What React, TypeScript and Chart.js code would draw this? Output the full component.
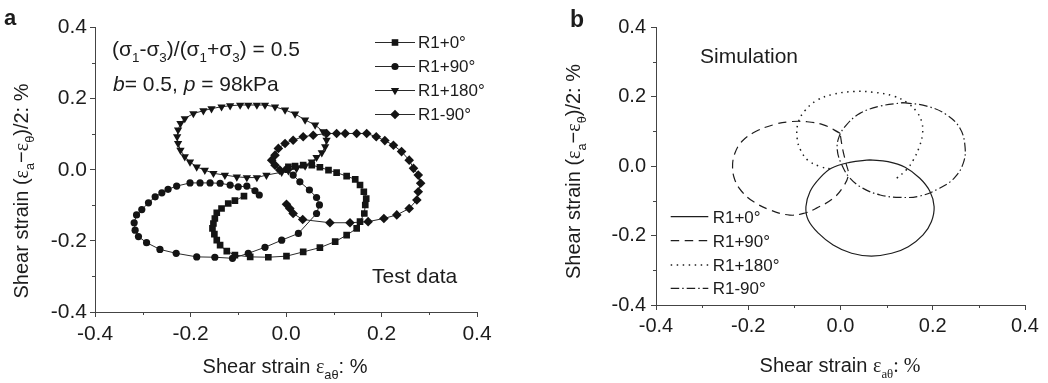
import React, { useEffect, useRef } from 'react';
import { Chart, registerables } from 'chart.js';

Chart.register(...registerables);

const SANS = '"Liberation Sans", Arial, Helvetica, sans-serif';
const SERIF = '"Liberation Serif", "Times New Roman", serif';
const INK = '#1c1c1c';
const AXIS = '#444444';

// ---------- shared axis data ----------
const TICK_VALUES = [-0.4, -0.2, 0.0, 0.2, 0.4];
const TICK_LABELS = ['-0.4', '-0.2', '0.0', '0.2', '0.4'];
const MINOR_TICKS = [-0.3, -0.1, 0.1, 0.3];
const SERIES_NAMES = ['R1+0°', 'R1+90°', 'R1+180°', 'R1-90°'];

// ---------- panel a : test data ----------
const testR1p0X = [-0.088, -0.107, -0.121, -0.135, -0.145, -0.149, -0.152, -0.154, -0.150, -0.145, -0.138, -0.124, -0.107, -0.075, -0.037, 0.001, 0.036, 0.071, 0.103, 0.127, 0.148, 0.155, 0.164, 0.166, 0.168, 0.163, 0.155, 0.145, 0.127, 0.106, 0.089, 0.071, 0.054, 0.036, 0.019, 0.005];
const testR1p0Y = [-0.074, -0.087, -0.095, -0.109, -0.121, -0.137, -0.151, -0.165, -0.181, -0.198, -0.212, -0.229, -0.240, -0.245, -0.246, -0.243, -0.231, -0.219, -0.202, -0.184, -0.165, -0.146, -0.123, -0.099, -0.081, -0.062, -0.043, -0.027, -0.018, -0.008, -0.001, 0.007, 0.013, 0.013, 0.010, 0.008];

const testR1p90X = [0.001, 0.015, 0.029, 0.049, 0.064, 0.070, 0.064, 0.026, -0.009, -0.044, -0.079, -0.112, -0.149, -0.187, -0.230, -0.264, -0.292, -0.309, -0.316, -0.318, -0.313, -0.302, -0.288, -0.274, -0.260, -0.247, -0.229, -0.201, -0.180, -0.159, -0.138, -0.117, -0.100, -0.082, -0.065, -0.056];
const testR1p90Y = [0.001, -0.015, -0.034, -0.057, -0.078, -0.099, -0.123, -0.179, -0.198, -0.218, -0.235, -0.249, -0.246, -0.245, -0.235, -0.224, -0.205, -0.188, -0.170, -0.149, -0.127, -0.112, -0.093, -0.076, -0.065, -0.055, -0.046, -0.037, -0.037, -0.037, -0.038, -0.043, -0.048, -0.046, -0.059, -0.071];

const testR1p180X = [-0.009, -0.041, -0.061, -0.082, -0.103, -0.128, -0.152, -0.170, -0.187, -0.201, -0.212, -0.221, -0.226, -0.228, -0.226, -0.221, -0.212, -0.194, -0.173, -0.156, -0.135, -0.117, -0.096, -0.079, -0.061, -0.044, -0.023, -0.002, 0.019, 0.040, 0.061, 0.078, 0.085, 0.082, 0.075, 0.064, 0.054, 0.040, 0.022, 0.005];
const testR1p180Y = [-0.007, -0.015, -0.022, -0.022, -0.020, -0.015, -0.010, -0.001, 0.008, 0.022, 0.037, 0.055, 0.074, 0.093, 0.112, 0.130, 0.144, 0.158, 0.166, 0.172, 0.177, 0.180, 0.182, 0.182, 0.182, 0.182, 0.177, 0.168, 0.157, 0.140, 0.126, 0.107, 0.083, 0.065, 0.048, 0.035, 0.022, 0.011, 0.004, -0.003];

const testR1m90X = [0.001, 0.008, 0.015, 0.035, 0.092, 0.134, 0.172, 0.205, 0.232, 0.258, 0.274, 0.277, 0.282, 0.277, 0.267, 0.258, 0.242, 0.225, 0.207, 0.189, 0.169, 0.148, 0.124, 0.106, 0.085, 0.057, 0.036, 0.015, -0.002, -0.016, -0.023, -0.030, -0.023, -0.013];
const testR1m90Y = [-0.097, -0.109, -0.123, -0.140, -0.149, -0.149, -0.146, -0.137, -0.127, -0.109, -0.085, -0.062, -0.038, -0.015, 0.004, 0.027, 0.051, 0.069, 0.082, 0.093, 0.102, 0.102, 0.102, 0.102, 0.102, 0.097, 0.093, 0.083, 0.074, 0.060, 0.041, 0.027, 0.013, -0.001];

// ---------- panel b : simulation ----------
const simR1p0X = [0.064, 0.103, 0.140, 0.172, 0.194, 0.203, 0.197, 0.179, 0.147, 0.111, 0.067, 0.024, -0.016, -0.048, -0.070, -0.075, -0.066, -0.046, -0.020, 0.020, 0.064];
const simR1p0Y = [0.018, 0.013, -0.003, -0.035, -0.073, -0.117, -0.160, -0.198, -0.232, -0.251, -0.259, -0.251, -0.227, -0.193, -0.155, -0.117, -0.073, -0.036, -0.006, 0.011, 0.018];

const simR1p90X = [-0.001, -0.037, -0.073, -0.110, -0.146, -0.185, -0.214, -0.229, -0.234, -0.229, -0.214, -0.189, -0.153, -0.110, -0.077, -0.052, -0.016, 0.006, 0.017, 0.012, 0.005, -0.001];
const simR1p90Y = [0.095, 0.119, 0.128, 0.128, 0.119, 0.099, 0.071, 0.037, -0.001, -0.040, -0.073, -0.102, -0.126, -0.141, -0.135, -0.121, -0.093, -0.059, -0.025, 0.008, 0.047, 0.095];

const simR1p180X = [0.122, 0.144, 0.158, 0.171, 0.178, 0.176, 0.165, 0.144, 0.115, 0.071, 0.028, -0.016, -0.052, -0.077, -0.092, -0.094, -0.086, -0.070, -0.044, -0.019];
const simR1p180Y = [-0.035, -0.009, 0.018, 0.056, 0.095, 0.128, 0.157, 0.183, 0.202, 0.213, 0.215, 0.207, 0.189, 0.160, 0.124, 0.080, 0.045, 0.016, -0.001, -0.009];

const simR1m90X = [0.136, 0.187, 0.230, 0.259, 0.270, 0.266, 0.246, 0.214, 0.172, 0.129, 0.086, 0.049, 0.021, 0.003, -0.007, -0.003, 0.013, 0.042, 0.086, 0.136];
const simR1m90Y = [0.183, 0.173, 0.148, 0.109, 0.056, 0.008, -0.035, -0.064, -0.086, -0.090, -0.083, -0.064, -0.035, 0.003, 0.047, 0.085, 0.119, 0.152, 0.173, 0.183];

// ---------- text ----------
type Seg = { t: string; sub?: boolean; sup?: boolean; serif?: boolean; italic?: boolean; bold?: boolean };
const STRESS_RATIO_TEXT: Seg[] = [
  { t: '(σ' }, { t: '1', sub: true }, { t: '-σ' }, { t: '3', sub: true },
  { t: ')/(σ' }, { t: '1', sub: true }, { t: '+σ' }, { t: '3', sub: true }, { t: ') = 0.5' },
];
const PARAM_TEXT: Seg[] = [
  { t: 'b', italic: true }, { t: '= 0.5, ' }, { t: 'p', italic: true }, { t: ' = 98kPa' },
];
const Y_TITLE: Seg[] = [
  { t: 'Shear strain (' }, { t: 'ε', serif: true }, { t: 'a', sub: true }, { t: '−' },
  { t: 'ε', serif: true }, { t: 'θ', sub: true }, { t: ')/2: %' },
];
const X_TITLE_A: Seg[] = [{ t: 'Shear strain ' }, { t: 'ε', serif: true }, { t: 'aθ', sub: true }, { t: ': %' }];
const X_TITLE_B: Seg[] = [{ t: 'Shear strain ' }, { t: 'ε', serif: true }, { t: 'aθ', sub: true, serif: true }, { t: ': %', serif: true }];

const pts = (xs: number[], ys: number[]) => xs.map((x, i) => ({ x, y: ys[i] }));

function drawRich(ctx: CanvasRenderingContext2D, segs: Seg[], x: number, y: number, size: number, align: 'left' | 'center') {
  const fontFor = (s: Seg) =>
    `${s.italic ? 'italic ' : ''}${s.bold ? 'bold ' : ''}${s.sub || s.sup ? (size * 0.64).toFixed(1) : size}px ${s.serif ? SERIF : SANS}`;
  let total = 0;
  for (const s of segs) {
    ctx.font = fontFor(s);
    total += ctx.measureText(s.t).width;
  }
  let cx = align === 'center' ? x - total / 2 : x;
  ctx.textAlign = 'left';
  ctx.textBaseline = 'alphabetic';
  for (const s of segs) {
    ctx.font = fontFor(s);
    const dy = s.sub ? size * 0.3 : s.sup ? -size * 0.45 : 0;
    ctx.fillText(s.t, cx, y + dy);
    cx += ctx.measureText(s.t).width;
  }
}

function drawMarker(ctx: CanvasRenderingContext2D, kind: number, x: number, y: number) {
  ctx.beginPath();
  if (kind === 0) {
    ctx.rect(x - 3.3, y - 3.3, 6.6, 6.6);
  } else if (kind === 1) {
    ctx.arc(x, y, 3.6, 0, Math.PI * 2);
  } else if (kind === 2) {
    const r = 4.8;
    ctx.moveTo(x, y + r);
    ctx.lineTo(x - r * 0.866, y - r * 0.5);
    ctx.lineTo(x + r * 0.866, y - r * 0.5);
    ctx.closePath();
  } else {
    const r = 4.8;
    ctx.moveTo(x, y - r);
    ctx.lineTo(x + r, y);
    ctx.lineTo(x, y + r);
    ctx.lineTo(x - r, y);
    ctx.closePath();
  }
  ctx.fill();
}

function drawMinorTicks(chart: any) {
  const ctx: CanvasRenderingContext2D = chart.ctx;
  const xs = chart.scales.x;
  const ys = chart.scales.y;
  const area = chart.chartArea;
  ctx.save();
  ctx.strokeStyle = AXIS;
  ctx.lineWidth = 1;
  ctx.beginPath();
  for (const v of MINOR_TICKS) {
    const px = Math.round(xs.getPixelForValue(v)) + 0.5;
    ctx.moveTo(px, area.bottom);
    ctx.lineTo(px, area.bottom + 3);
    const py = Math.round(ys.getPixelForValue(v)) + 0.5;
    ctx.moveTo(area.left - 3, py);
    ctx.lineTo(area.left, py);
  }
  ctx.stroke();
  ctx.restore();
}

function axisCfg(axis: 'x' | 'y', tickSize: number, pad: number, fit: number) {
  return {
    type: 'linear',
    min: TICK_VALUES[0],
    max: TICK_VALUES[TICK_VALUES.length - 1],
    afterBuildTicks: (s: any) => {
      s.ticks = TICK_VALUES.map((v) => ({ value: v }));
    },
    ticks: {
      font: { family: SANS, size: tickSize },
      color: INK,
      padding: pad,
      maxRotation: 0,
      autoSkip: false,
      callback: (_v: any, i: number) => TICK_LABELS[i],
    },
    grid: { display: true, drawOnChartArea: false, drawTicks: true, tickLength: 5, color: AXIS, lineWidth: 1 },
    border: { display: true, color: AXIS, width: 1 },
    afterFit: (s: any) => {
      if (axis === 'x') s.height = fit;
      else s.width = fit;
    },
  };
}

const MARKER_STYLES = [
  { pointStyle: 'rect', pointRadius: 4.7, pointRotation: 0 },
  { pointStyle: 'circle', pointRadius: 3.6, pointRotation: 0 },
  { pointStyle: 'triangle', pointRadius: 4.8, pointRotation: 180 },
  { pointStyle: 'rectRot', pointRadius: 4.8, pointRotation: 0 },
];
const DASHES = [[], [8.5, 5.5], [1.5, 4.5], [8.5, 3, 1.5, 3]];
const LINE_WIDTHS = [1.2, 1.2, 1.5, 1.2];

function configA(): any {
  const series = [
    pts(testR1p0X, testR1p0Y),
    pts(testR1p90X, testR1p90Y),
    pts(testR1p180X, testR1p180Y),
    pts(testR1m90X, testR1m90Y),
  ];
  return {
    type: 'scatter',
    data: {
      datasets: series.map((d, i) => ({
        label: SERIES_NAMES[i],
        data: d,
        showLine: true,
        tension: 0,
        borderColor: '#2a2a2a',
        borderWidth: 1,
        pointBackgroundColor: '#141414',
        pointBorderWidth: 0,
        pointHoverRadius: 0,
        ...MARKER_STYLES[i],
      })),
    },
    options: {
      responsive: false,
      animation: false,
      devicePixelRatio: 1,
      layout: { padding: { top: 27.5, right: 43, left: 0, bottom: 0 } },
      plugins: { legend: { display: false }, tooltip: { enabled: false }, title: { display: false } },
      scales: { x: axisCfg('x', 21, 5, 71), y: axisCfg('y', 21, 3, 95) },
    },
    plugins: [
      {
        id: 'decorA',
        afterDraw(chart: any) {
          const ctx: CanvasRenderingContext2D = chart.ctx;
          drawMinorTicks(chart);
          ctx.save();
          ctx.fillStyle = INK;
          drawRich(ctx, [{ t: 'a', bold: true }], 4, 25, 22, 'left');
          drawRich(ctx, STRESS_RATIO_TEXT, 112, 56, 21, 'left');
          drawRich(ctx, PARAM_TEXT, 113, 91, 21, 'left');
          drawRich(ctx, [{ t: 'Test data' }], 372, 283, 21, 'left');
          const rows = [42.3, 66, 90, 114];
          rows.forEach((ry, i) => {
            ctx.strokeStyle = '#2a2a2a';
            ctx.lineWidth = 1;
            ctx.beginPath();
            ctx.moveTo(375, Math.round(ry) + 0.5);
            ctx.lineTo(415, Math.round(ry) + 0.5);
            ctx.stroke();
            ctx.fillStyle = '#141414';
            drawMarker(ctx, i, 395, Math.round(ry) + 0.5);
            ctx.fillStyle = INK;
            drawRich(ctx, [{ t: SERIES_NAMES[i] }], 418, ry + 6, 17, 'left');
          });
          drawRich(ctx, X_TITLE_A, 285, 373, 20, 'center');
          ctx.translate(28, 191);
          ctx.rotate(-Math.PI / 2);
          drawRich(ctx, Y_TITLE, 0, 0, 20, 'center');
          ctx.restore();
        },
      },
    ],
  };
}

function configB(): any {
  const series = [
    pts(simR1p0X, simR1p0Y),
    pts(simR1p90X, simR1p90Y),
    pts(simR1p180X, simR1p180Y),
    pts(simR1m90X, simR1m90Y),
  ];
  return {
    type: 'scatter',
    data: {
      datasets: series.map((d, i) => ({
        label: SERIES_NAMES[i],
        data: d,
        showLine: true,
        tension: 0.4,
        borderColor: '#1e1e1e',
        borderWidth: LINE_WIDTHS[i],
        borderDash: DASHES[i],
        pointRadius: 0,
        pointHoverRadius: 0,
      })),
    },
    options: {
      responsive: false,
      animation: false,
      devicePixelRatio: 1,
      layout: { padding: { top: 27.3, right: 23, left: 0, bottom: 0 } },
      plugins: { legend: { display: false }, tooltip: { enabled: false }, title: { display: false } },
      scales: { x: axisCfg('x', 20, 4, 78), y: axisCfg('y', 20, 5, 136) },
    },
    plugins: [
      {
        id: 'decorB',
        afterDraw(chart: any) {
          const ctx: CanvasRenderingContext2D = chart.ctx;
          drawMinorTicks(chart);
          ctx.save();
          ctx.fillStyle = INK;
          drawRich(ctx, [{ t: 'b', bold: true }], 50, 27, 23, 'left');
          drawRich(ctx, [{ t: 'Simulation' }], 180, 63, 21, 'left');
          const rows = [216.7, 240.7, 265, 288.3];
          rows.forEach((ry, i) => {
            ctx.strokeStyle = '#1e1e1e';
            ctx.lineWidth = LINE_WIDTHS[i];
            ctx.setLineDash(DASHES[i]);
            ctx.beginPath();
            ctx.moveTo(150.7, ry);
            ctx.lineTo(188.3, ry);
            ctx.stroke();
            ctx.setLineDash([]);
            drawRich(ctx, [{ t: SERIES_NAMES[i] }], 192.7, ry + 6, 17, 'left');
          });
          drawRich(ctx, X_TITLE_B, 320, 372, 20, 'center');
          ctx.translate(60, 171.5);
          ctx.rotate(-Math.PI / 2);
          drawRich(ctx, Y_TITLE, 0, 0, 20, 'center');
          ctx.restore();
        },
      },
    ],
  };
}

function Panel({ make, left, width }: { make: () => any; left: number; width: number }) {
  const ref = useRef<HTMLCanvasElement>(null);
  useEffect(() => {
    if (!ref.current) return;
    const chart = new Chart(ref.current, make());
    return () => chart.destroy();
  }, [make]);
  return (
    <canvas
      ref={ref}
      width={width}
      height={383}
      style={{ position: 'absolute', left, top: 0, width, height: 383, display: 'block' }}
    />
  );
}

export default function App() {
  return (
    <div style={{ position: 'fixed', left: 0, top: 0, width: 1048, height: 383, background: '#ffffff' }}>
      <Panel make={configA} left={0} width={520} />
      <Panel make={configB} left={520} width={528} />
    </div>
  );
}
